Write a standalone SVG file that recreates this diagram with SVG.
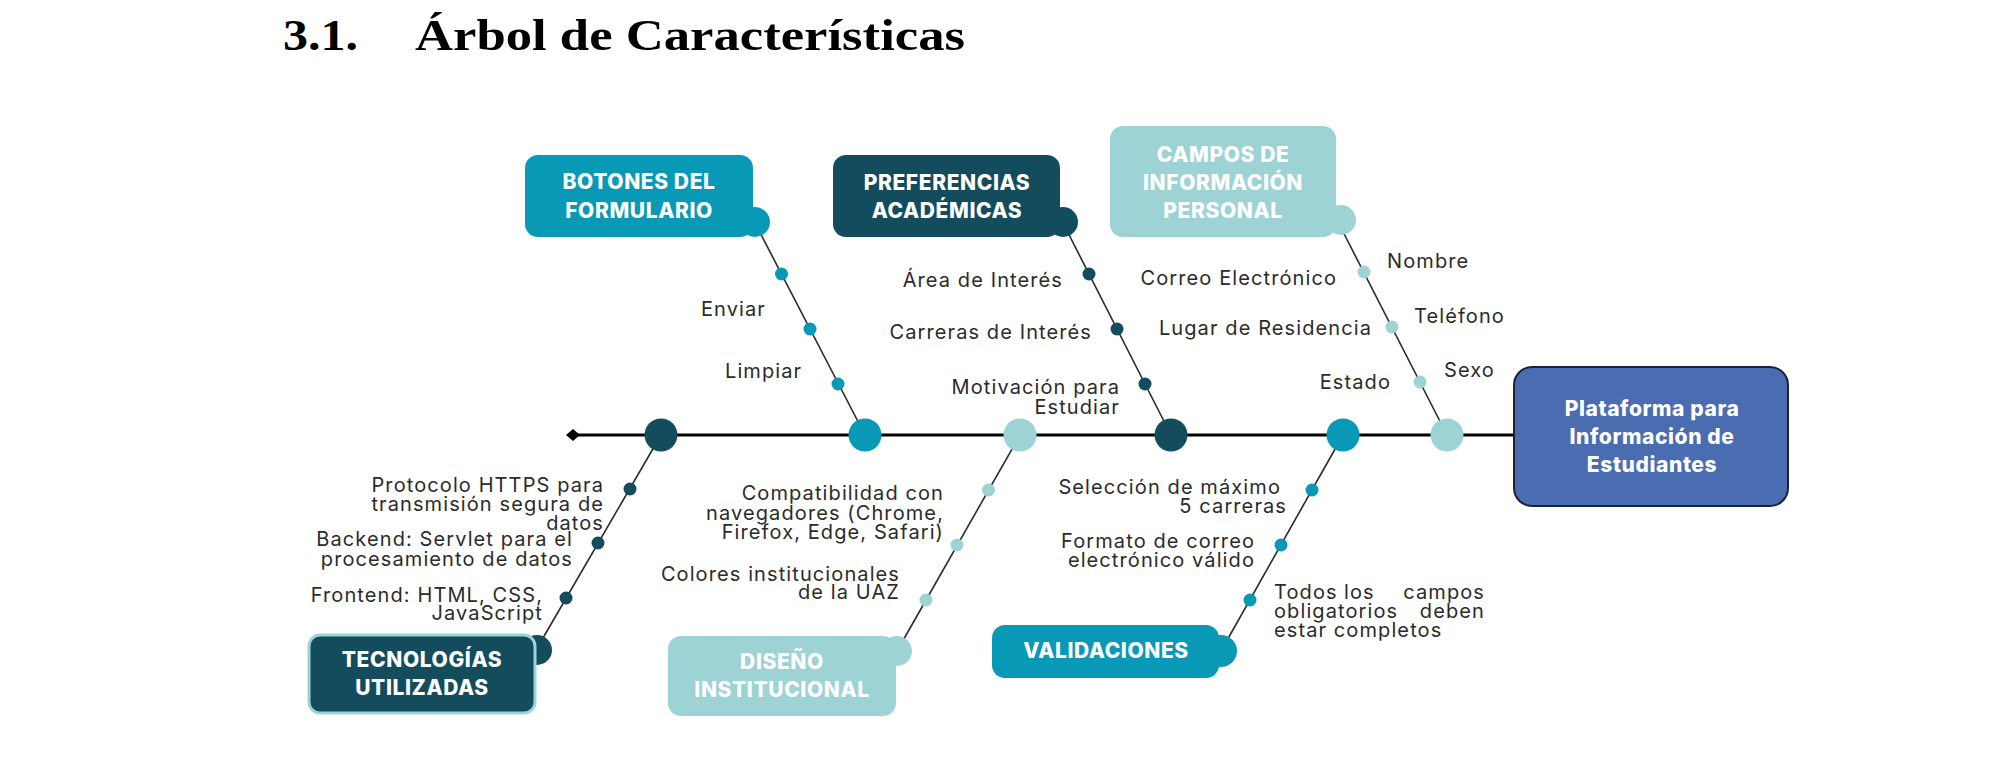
<svg xmlns="http://www.w3.org/2000/svg" width="2000" height="762" viewBox="0 0 2000 762">
<style>
.ttl{font-family:"Liberation Serif","DejaVu Serif",serif;font-weight:700;font-size:44px;fill:#000}
.lbl{font-family:Inter,"Liberation Sans",sans-serif;font-size:20px;fill:#2b2b2b;letter-spacing:1.1px}
.e{text-anchor:end}
.bt{font-family:Inter,"Liberation Sans",sans-serif;font-weight:800;font-size:21px;fill:#fff;text-anchor:middle;letter-spacing:0.6px}
.teal{fill:#0899b6}
.dark{fill:#124c5d}
.light{fill:#9dd3d5}
.br{stroke:#2a2a2a;stroke-width:1.6;fill:none}
</style>
<rect width="2000" height="762" fill="#fff"/>
<g id="title">
<text class="ttl" x="283" y="50" textLength="75" lengthAdjust="spacingAndGlyphs">3.1.</text>
<text class="ttl" x="415" y="50" textLength="550" lengthAdjust="spacingAndGlyphs">Árbol de Características</text>
</g>
<g id="connectors">
<line x1="573" y1="435" x2="1514" y2="435" stroke="#000" stroke-width="3"/>
<polygon points="566,435 573,429 580,435 573,441" fill="#000"/>
<line class="br" x1="754" y1="221" x2="865" y2="435"/>
<line class="br" x1="1062" y1="221" x2="1171" y2="435"/>
<line class="br" x1="1337" y1="220" x2="1447" y2="435"/>
<line class="br" x1="536" y1="650" x2="661" y2="435"/>
<line class="br" x1="897" y1="651" x2="1020" y2="435"/>
<line class="br" x1="1221" y1="651" x2="1343" y2="435"/>
</g>
<g id="spine-points">
<circle class="dark" cx="661" cy="435" r="16.5"/>
<circle class="teal" cx="865" cy="435" r="16.5"/>
<circle class="light" cx="1020" cy="435" r="16.5"/>
<circle class="dark" cx="1171" cy="435" r="16.5"/>
<circle class="teal" cx="1343" cy="435" r="16.5"/>
<circle class="light" cx="1447" cy="435" r="16.5"/>
</g>
<g id="botones">
<circle class="teal" cx="755" cy="222" r="15"/>
<rect class="teal" x="525" y="155" width="228" height="82" rx="13"/>
<text class="bt" x="639" y="189">BOTONES DEL</text>
<text class="bt" x="639" y="218">FORMULARIO</text>
<circle class="teal" cx="781.5" cy="274" r="6.5"/>
<circle class="teal" cx="810" cy="329" r="6.5"/>
<circle class="teal" cx="838" cy="384" r="6.5"/>
<text class="lbl" x="701" y="316">Enviar</text>
<text class="lbl" x="725" y="378">Limpiar</text>
</g>
<g id="preferencias">
<circle class="dark" cx="1063" cy="222" r="15"/>
<rect class="dark" x="833" y="155" width="227" height="82" rx="13"/>
<text class="bt" x="947" y="190">PREFERENCIAS</text>
<text class="bt" x="947" y="218">ACADÉMICAS</text>
<circle class="dark" cx="1089" cy="274" r="6.5"/>
<circle class="dark" cx="1117" cy="329" r="6.5"/>
<circle class="dark" cx="1145" cy="384" r="6.5"/>
<text class="lbl e" x="1063" y="287">Área de Interés</text>
<text class="lbl e" x="1092" y="339">Carreras de Interés</text>
<text class="lbl e" x="1120" y="394">Motivación para</text>
<text class="lbl e" x="1120" y="414">Estudiar</text>
</g>
<g id="campos">
<circle class="light" cx="1341" cy="220" r="15"/>
<rect class="light" x="1110" y="126" width="226" height="111" rx="13"/>
<text class="bt" x="1223" y="162">CAMPOS DE</text>
<text class="bt" x="1223" y="190">INFORMACIÓN</text>
<text class="bt" x="1223" y="218">PERSONAL</text>
<circle class="light" cx="1364" cy="272" r="6.5"/>
<circle class="light" cx="1392" cy="327" r="6.5"/>
<circle class="light" cx="1420" cy="382" r="6.5"/>
<text class="lbl e" x="1337" y="285">Correo Electrónico</text>
<text class="lbl e" x="1372" y="335">Lugar de Residencia</text>
<text class="lbl" x="1387" y="268">Nombre</text>
<text class="lbl" x="1414" y="323">Teléfono</text>
<text class="lbl" x="1444" y="377">Sexo</text>
<text class="lbl e" x="1391" y="389">Estado</text>
</g>
<g id="tecnologias">
<circle class="dark" cx="537" cy="650" r="15"/>
<rect class="dark" x="309" y="635" width="226" height="78" rx="11" stroke="#9dd3d5" stroke-width="3"/>
<text class="bt" x="422" y="667">TECNOLOGÍAS</text>
<text class="bt" x="422" y="695">UTILIZADAS</text>
<circle class="dark" cx="630" cy="489" r="6.5"/>
<circle class="dark" cx="598" cy="543" r="6.5"/>
<circle class="dark" cx="566" cy="598" r="6.5"/>
<text class="lbl e" x="604" y="492">Protocolo HTTPS para</text>
<text class="lbl e" x="604" y="511">transmisión segura de</text>
<text class="lbl e" x="604" y="530">datos</text>
<text class="lbl e" x="573" y="546">Backend: Servlet para el</text>
<text class="lbl e" x="573" y="566">procesamiento de datos</text>
<text class="lbl e" x="543" y="602">Frontend: HTML, CSS,</text>
<text class="lbl e" x="543" y="620">JavaScript</text>
</g>
<g id="diseno">
<circle class="light" cx="897" cy="651" r="15"/>
<rect class="light" x="668" y="636" width="228" height="80" rx="13"/>
<text class="bt" x="782" y="669">DISEÑO</text>
<text class="bt" x="782" y="697">INSTITUCIONAL</text>
<circle class="light" cx="988.5" cy="490" r="6.5"/>
<circle class="light" cx="957" cy="545" r="6.5"/>
<circle class="light" cx="926" cy="600" r="6.5"/>
<text class="lbl e" x="944" y="500">Compatibilidad con</text>
<text class="lbl e" x="944" y="520">navegadores (Chrome,</text>
<text class="lbl e" x="944" y="539">Firefox, Edge, Safari)</text>
<text class="lbl e" x="900" y="581">Colores institucionales</text>
<text class="lbl e" x="900" y="599">de la UAZ</text>
</g>
<g id="validaciones">
<circle class="teal" cx="1221" cy="651" r="16"/>
<rect class="teal" x="992" y="625" width="227" height="53" rx="13"/>
<text class="bt" x="1106" y="658">VALIDACIONES</text>
<circle class="teal" cx="1312" cy="490" r="6.5"/>
<circle class="teal" cx="1281" cy="545" r="6.5"/>
<circle class="teal" cx="1250" cy="600" r="6.5"/>
<text class="lbl e" x="1281" y="494">Selección de máximo</text>
<text class="lbl e" x="1287" y="513">5 carreras</text>
<text class="lbl e" x="1255" y="548">Formato de correo</text>
<text class="lbl e" x="1255" y="567">electrónico válido</text>
<text class="lbl" y="599"><tspan x="1274">Todos</tspan><tspan x="1344">los</tspan><tspan x="1485" text-anchor="end">campos</tspan></text>
<text class="lbl" y="618"><tspan x="1274">obligatorios</tspan><tspan x="1485" text-anchor="end">deben</tspan></text>
<text class="lbl" x="1274" y="637">estar completos</text>
</g>
<g id="plataforma">
<rect x="1514" y="367" width="274" height="139" rx="18" fill="#4a6db1" stroke="#1b2238" stroke-width="2"/>
<text class="bt" x="1652" y="416">Plataforma para</text>
<text class="bt" x="1652" y="444">Información de</text>
<text class="bt" x="1652" y="472">Estudiantes</text>
</g>
</svg>
